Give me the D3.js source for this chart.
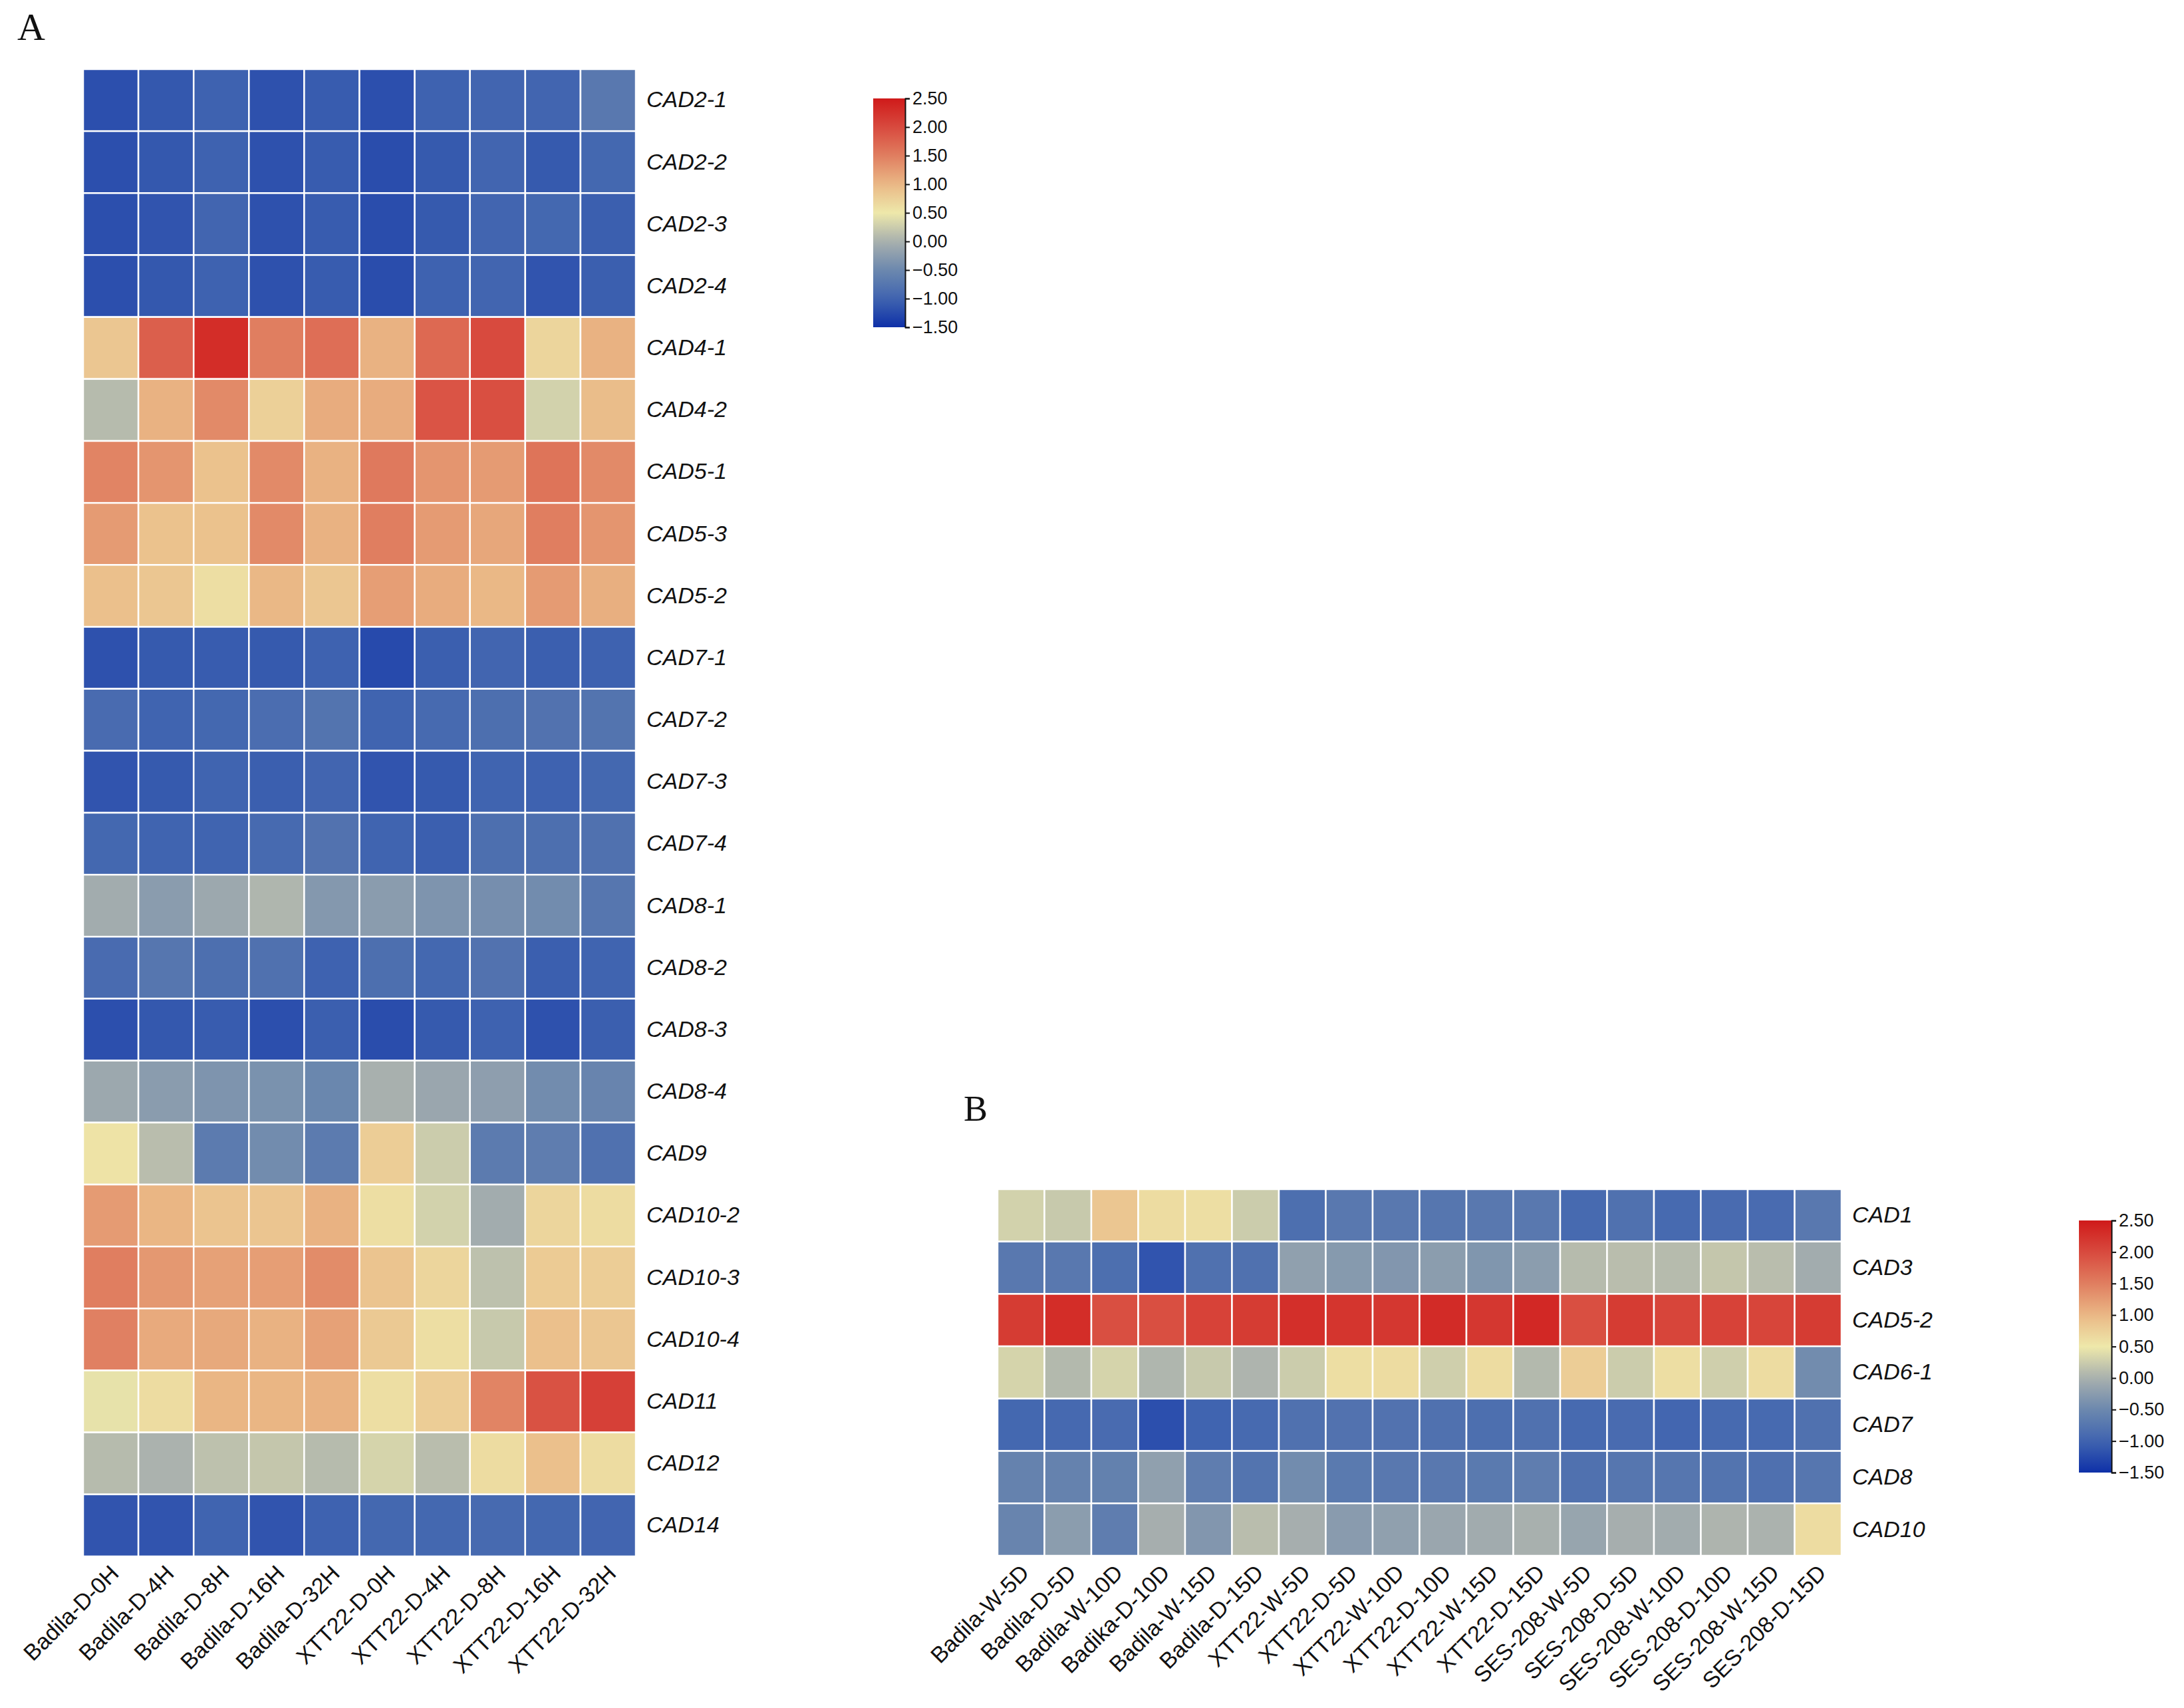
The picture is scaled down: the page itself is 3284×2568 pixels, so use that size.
<!DOCTYPE html>
<html>
<head>
<meta charset="utf-8">
<script src="https://cdn.jsdelivr.net/npm/d3@7"></script>
<style>
  body { margin: 0; background: #fff; }
  text { font-family: "Liberation Sans", Arial, sans-serif; }
</style>
</head>
<body>
<svg id="fig" width="3284" height="2568"></svg>
<script>
// ---- panel A data ----
const samplesA = ["Badila-D-0H", "Badila-D-4H", "Badila-D-8H", "Badila-D-16H", "Badila-D-32H",
                  "XTT22-D-0H", "XTT22-D-4H", "XTT22-D-8H", "XTT22-D-16H", "XTT22-D-32H"];
const genesA = ["CAD2-1", "CAD2-2", "CAD2-3", "CAD2-4", "CAD4-1", "CAD4-2", "CAD5-1", "CAD5-3",
                "CAD5-2", "CAD7-1", "CAD7-2", "CAD7-3", "CAD7-4", "CAD8-1", "CAD8-2", "CAD8-3",
                "CAD8-4", "CAD9", "CAD10-2", "CAD10-3", "CAD10-4", "CAD11", "CAD12", "CAD14"];
const valuesA = [
  [-1.20, -1.12, -1.02, -1.18, -1.08, -1.20, -1.02, -0.98, -0.98, -0.72],
  [-1.20, -1.12, -1.02, -1.18, -1.08, -1.22, -1.10, -0.98, -1.10, -0.95],
  [-1.20, -1.15, -0.98, -1.18, -1.08, -1.22, -1.10, -0.98, -0.95, -1.05],
  [-1.20, -1.12, -1.02, -1.18, -1.08, -1.22, -1.02, -0.98, -1.15, -1.05],
  [0.85, 1.80, 2.30, 1.50, 1.65, 1.05, 1.70, 2.00, 0.70, 1.05],
  [0.10, 1.05, 1.40, 0.75, 1.10, 1.10, 1.90, 1.95, 0.30, 0.95],
  [1.45, 1.30, 0.90, 1.40, 1.05, 1.55, 1.30, 1.25, 1.60, 1.40],
  [1.25, 0.90, 0.90, 1.40, 1.05, 1.50, 1.25, 1.15, 1.50, 1.30],
  [0.92, 0.85, 0.60, 1.00, 0.85, 1.22, 1.10, 1.00, 1.25, 1.08],
  [-1.18, -1.10, -1.08, -1.10, -1.02, -1.25, -1.05, -0.98, -1.05, -1.02],
  [-0.90, -1.00, -0.95, -0.88, -0.78, -1.00, -0.92, -0.85, -0.80, -0.78],
  [-1.15, -1.10, -1.00, -1.05, -0.98, -1.15, -1.10, -1.00, -1.02, -0.95],
  [-0.95, -1.00, -1.00, -0.92, -0.80, -1.00, -1.05, -0.85, -0.85, -0.82],
  [-0.05, -0.25, -0.10, 0.05, -0.30, -0.25, -0.35, -0.42, -0.45, -0.75],
  [-0.90, -0.75, -0.85, -0.82, -1.02, -0.85, -0.95, -0.80, -1.05, -1.00],
  [-1.20, -1.12, -1.08, -1.20, -1.05, -1.22, -1.10, -1.02, -1.18, -1.05],
  [-0.10, -0.25, -0.35, -0.38, -0.52, 0.00, -0.12, -0.22, -0.45, -0.55],
  [0.55, 0.12, -0.68, -0.45, -0.68, 0.78, 0.25, -0.68, -0.65, -0.82],
  [1.25, 1.02, 0.88, 0.86, 1.05, 0.60, 0.30, -0.05, 0.70, 0.62],
  [1.50, 1.28, 1.20, 1.22, 1.38, 0.88, 0.70, 0.15, 0.80, 0.78],
  [1.48, 1.12, 1.13, 1.05, 1.20, 0.82, 0.60, 0.22, 0.92, 0.85],
  [0.45, 0.62, 1.02, 1.02, 1.05, 0.60, 0.78, 1.45, 1.92, 2.10],
  [0.10, 0.02, 0.15, 0.20, 0.10, 0.32, 0.12, 0.62, 0.92, 0.62],
  [-1.15, -1.15, -1.00, -1.15, -1.02, -0.95, -0.95, -0.92, -0.95, -0.98]
];

// ---- panel B data ----
const samplesB = ["Badila-W-5D", "Badila-D-5D", "Badila-W-10D", "Badika-D-10D", "Badila-W-15D",
                  "Badila-D-15D", "XTT22-W-5D", "XTT22-D-5D", "XTT22-W-10D", "XTT22-D-10D",
                  "XTT22-W-15D", "XTT22-D-15D", "SES-208-W-5D", "SES-208-D-5D", "SES-208-W-10D",
                  "SES-208-D-10D", "SES-208-W-15D", "SES-208-D-15D"];
const genesB = ["CAD1", "CAD3", "CAD5-2", "CAD6-1", "CAD7", "CAD8", "CAD10"];
const valuesB = [
  [0.30, 0.22, 0.85, 0.62, 0.60, 0.25, -0.85, -0.72, -0.72, -0.75, -0.72, -0.72, -0.92, -0.82, -0.92, -0.90, -0.90, -0.72],
  [-0.72, -0.72, -0.85, -1.15, -0.82, -0.82, -0.20, -0.28, -0.32, -0.24, -0.33, -0.24, 0.10, 0.12, 0.10, 0.20, 0.12, -0.05],
  [2.15, 2.30, 1.95, 1.95, 2.08, 2.15, 2.28, 2.22, 2.20, 2.32, 2.20, 2.35, 1.95, 2.15, 2.05, 2.08, 2.05, 2.15],
  [0.32, 0.08, 0.32, 0.05, 0.22, 0.04, 0.25, 0.60, 0.63, 0.28, 0.62, 0.08, 0.78, 0.25, 0.60, 0.28, 0.62, -0.45],
  [-0.95, -0.93, -0.90, -1.20, -1.00, -0.92, -0.82, -0.80, -0.80, -0.82, -0.85, -0.82, -0.92, -0.90, -0.97, -0.92, -0.92, -0.82],
  [-0.58, -0.58, -0.60, -0.20, -0.65, -0.78, -0.45, -0.70, -0.72, -0.72, -0.70, -0.65, -0.82, -0.75, -0.75, -0.78, -0.83, -0.75],
  [-0.55, -0.24, -0.65, -0.02, -0.32, 0.12, -0.02, -0.26, -0.20, -0.12, -0.06, 0.00, -0.14, -0.02, -0.05, 0.04, 0.02, 0.63]
];

const legendTicks = [2.5, 2.0, 1.5, 1.0, 0.5, 0.0, -0.5, -1.0, -1.5];

// shared colour map (blue - grey - pale yellow - orange - red)
const color = d3.scaleLinear()
  .domain([-1.5, -1.0, -0.5, 0.0, 0.5, 1.0, 1.5, 2.0, 2.5])
  .range(["#0e30a8", "#4064b0", "#6c88ae", "#a8b0ae", "#eee8aa", "#eab886", "#e07e60", "#d84a3e", "#cf1a1a"])
  .clamp(true);

const svg = d3.select("#fig");
svg.append("rect").attr("width", 3284).attr("height", 2568).attr("fill", "#fff");

// draw one heatmap with row labels on the right and rotated sample labels underneath
function drawHeatmap(g, rows, cols, values, w, h) {
  const x = d3.scaleBand().domain(cols).range([0, w]);
  const y = d3.scaleBand().domain(rows).range([0, h]);

  const cells = [];
  rows.forEach((r, i) => cols.forEach((c, j) => cells.push({ r, c, v: values[i][j] })));

  g.append("g").selectAll("rect")
    .data(cells)
    .join("rect")
    .attr("x", d => x(d.c))
    .attr("y", d => y(d.r))
    .attr("width", x.bandwidth())
    .attr("height", y.bandwidth())
    .attr("fill", d => color(d.v))
    .attr("stroke", "#fff")
    .attr("stroke-width", 2.5);

  // gene labels
  const yAxis = g.append("g")
    .attr("transform", `translate(${w},0)`)
    .call(d3.axisRight(y).tickSize(0).tickPadding(16));
  yAxis.select(".domain").remove();
  yAxis.selectAll("text")
    .attr("font-size", 34)
    .attr("font-style", "italic")
    .attr("font-family", "Liberation Sans, Arial, sans-serif")
    .attr("fill", "#111");

  // sample labels
  const xAxis = g.append("g")
    .attr("transform", `translate(0,${h})`)
    .call(d3.axisBottom(x).tickSize(0).tickPadding(0));
  xAxis.select(".domain").remove();
  xAxis.selectAll("text")
    .attr("font-size", 34)
    .attr("font-family", "Liberation Sans, Arial, sans-serif")
    .attr("fill", "#111")
    .attr("text-anchor", "end")
    .attr("dy", null)
    .attr("y", 0)
    .attr("transform", "translate(14,28) rotate(-45)");
}

// vertical colour bar with axis on its right side
function drawLegend(g, w, h, id) {
  const grad = svg.append("defs").append("linearGradient")
    .attr("id", id)
    .attr("x1", 0).attr("y1", 1).attr("x2", 0).attr("y2", 0);
  d3.range(0, 1.0001, 0.05).forEach(t => {
    grad.append("stop")
      .attr("offset", t)
      .attr("stop-color", color(-1.5 + t * 4));
  });

  g.append("rect")
    .attr("width", w)
    .attr("height", h)
    .attr("fill", `url(#${id})`);

  const s = d3.scaleLinear().domain([-1.5, 2.5]).range([h, 0]);
  const ax = g.append("g")
    .attr("transform", `translate(${w},0)`)
    .call(d3.axisRight(s).tickValues(legendTicks).tickFormat(d3.format(".2f")).tickSize(7).tickPadding(4));
  ax.select(".domain").attr("stroke", "#111").attr("stroke-width", 2);
  ax.selectAll(".tick line").attr("stroke", "#111").attr("stroke-width", 2);
  ax.selectAll("text")
    .attr("font-size", 27)
    .attr("font-family", "Liberation Sans, Arial, sans-serif")
    .attr("fill", "#111");
}

// panel A
svg.append("text")
  .attr("x", 26).attr("y", 60)
  .attr("font-size", 58)
  .attr("fill", "#111")
  .style("font-family", "Liberation Serif, serif")
  .text("A");
drawHeatmap(svg.append("g").attr("transform", "translate(125,104)"),
  genesA, samplesA, valuesA, 831, 2236);
drawLegend(svg.append("g").attr("transform", "translate(1313,148)"), 48, 344, "gradA");

// panel B
svg.append("text")
  .attr("x", 1449).attr("y", 1685)
  .attr("font-size", 54)
  .attr("fill", "#111")
  .style("font-family", "Liberation Serif, serif")
  .text("B");
drawHeatmap(svg.append("g").attr("transform", "translate(1500,1788)"),
  genesB, samplesB, valuesB, 1269, 551);
drawLegend(svg.append("g").attr("transform", "translate(3126,1835)"), 49, 379, "gradB");
</script>
</body>
</html>
